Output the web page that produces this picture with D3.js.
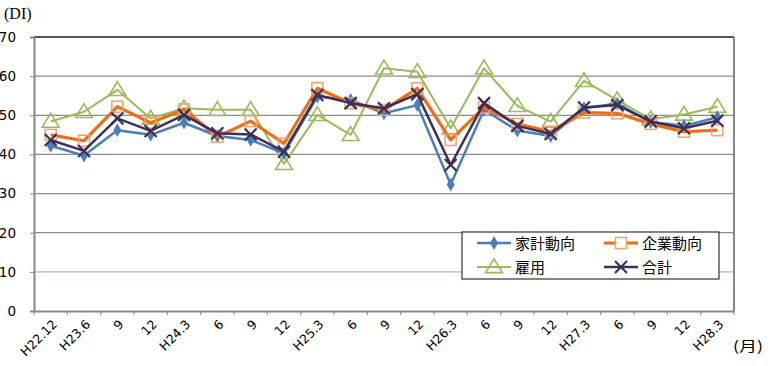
<!DOCTYPE html>
<html><head><meta charset="utf-8">
<script src="https://cdn.jsdelivr.net/npm/d3@7"></script>
<style>body{margin:0;background:#fff;} svg{display:block;}</style>
</head><body>
<svg id="c" width="771" height="366"></svg>
<script>
const categories = ["H22.12","H23.6","9","12","H24.3","6","9","12","H25.3","6","9","12","H26.3","6","9","12","H27.3","6","9","12","H28.3"];
const kakei  = [42.2,39.7,46.2,45.0,48.1,44.7,43.7,40.3,54.8,53.9,50.5,52.6,32.3,51.4,46.1,44.7,51.8,53.0,48.3,47.3,49.5];
const kigyo  = [45.0,43.5,52.2,48.1,51.5,44.5,48.5,42.8,56.9,53.1,51.4,56.9,43.7,52.0,47.8,45.8,50.7,50.5,47.8,45.8,46.2];
const koyo   = [48.4,50.9,56.5,49.2,51.8,51.4,51.4,37.6,50.1,45.0,62.0,61.1,46.7,62.0,52.4,48.4,58.8,53.9,49.0,50.2,52.2];
const gokei  = [43.7,40.9,49.2,46.0,50.1,45.4,45.1,40.7,55.2,53.1,51.8,55.4,37.3,53.1,47.3,45.2,52.0,52.6,48.4,46.7,48.6];
const yTicks = [0,10,20,30,40,50,60,70];
const seriesNames = ["家計動向","企業動向","雇用","合計"];

const svg = d3.select("#c");
const L=34, R=734, T=37, B=311;
const x = d3.scaleBand().domain(d3.range(categories.length)).range([L,R]);
const y = d3.scaleLinear().domain([0,70]).range([B,T]);
const cx = i => x(i)+x.bandwidth()/2;
const font = "'DejaVu Sans', Verdana, sans-serif";
const jfont = "'Noto Sans CJK JP', sans-serif";

// gridlines
svg.append("g").selectAll("line").data(yTicks.filter(d=>d>0 && d<70)).join("line")
  .attr("x1",L).attr("x2",R).attr("y1",d=>y(d)).attr("y2",d=>y(d))
  .attr("stroke",d=>d===10?"#cfa3cf":"#8c8c8c").attr("stroke-width",1.2);
// top border
svg.append("line").attr("x1",L).attr("x2",R).attr("y1",y(70)).attr("y2",y(70)).attr("stroke","#555").attr("stroke-width",2);
// right border
svg.append("line").attr("x1",R).attr("x2",R).attr("y1",y(70)).attr("y2",y(0)).attr("stroke","#888").attr("stroke-width",2);

// y axis
const ya = svg.append("g").attr("transform",`translate(${L},0)`)
  .call(d3.axisLeft(y).tickValues(yTicks).tickSize(4).tickPadding(14));
ya.select(".domain").attr("stroke","#888").attr("stroke-width",2);
ya.selectAll(".tick line").attr("stroke","#888");
ya.selectAll("text").attr("font-family",font).attr("font-size",13.5).attr("fill","#000");

// x axis
const xa = svg.append("g").attr("transform",`translate(0,${B})`)
  .call(d3.axisBottom(x).tickSize(0).tickFormat(i=>categories[i]));
xa.select(".domain").attr("stroke","#888").attr("stroke-width",2);
xa.selectAll(".tick line").remove();
xa.selectAll(".tick text").attr("font-family",font).attr("font-size",12.5).attr("fill","#000")
  .attr("text-anchor","end").attr("dy",0)
  .attr("transform","translate(5,12) rotate(-45)");
// x tick marks between categories
svg.append("g").selectAll("line").data(d3.range(categories.length+1)).join("line")
  .attr("x1",i=>L+i*x.step()).attr("x2",i=>L+i*x.step()).attr("y1",B).attr("y2",B+4)
  .attr("stroke","#888").attr("stroke-width",1);

const line = d3.line().x((d,i)=>cx(i)).y(d=>y(d));

const colors = {blue:"#4a7ebb", orange:"#f06e12", green:"#9bbb59", navy:"#3c2f59", orangeM:"#f5a06a"};

function drawLine(data,color,w){
  svg.append("path").datum(data).attr("d",line).attr("fill","none").attr("stroke",color).attr("stroke-width",w).attr("stroke-linejoin","round");
}
const diamond = d3.symbol().type(d3.symbolDiamond).size(55);
const tri = s => { const h=s*0.9; return `M0,${-h*0.65} L${s*0.6},${h*0.45} L${-s*0.6},${h*0.45} Z`; };

function markersDiamond(g,data,color){
  g.selectAll("path.d").data(data).join("path").attr("class","d")
    .attr("transform",(d,i)=>`translate(${cx(i)},${y(d)})`).attr("d",diamond()).attr("fill",color);
}
function markersSquare(g,data,color){
  g.selectAll("rect").data(data).join("rect")
    .attr("x",(d,i)=>cx(i)-5.5).attr("y",d=>y(d)-5.5).attr("width",11).attr("height",11)
    .attr("fill","none").attr("stroke",color).attr("stroke-width",1.5);
}
function markersTri(g,data,color){
  g.selectAll("path.t").data(data).join("path").attr("class","t")
    .attr("transform",(d,i)=>`translate(${cx(i)},${y(d)})`).attr("d",tri(14))
    .attr("fill","none").attr("stroke",color).attr("stroke-width",1.6);
}
function markersX(g,data,color){
  g.selectAll("path.x").data(data).join("path").attr("class","x")
    .attr("transform",(d,i)=>`translate(${cx(i)},${y(d)})`).attr("d","M-6,-6L6,6M-6,6L6,-6")
    .attr("stroke",color).attr("stroke-width",2.2);
}

drawLine(koyo,colors.green,2);
markersTri(svg.append("g"),koyo,colors.green);
drawLine(kakei,colors.blue,2.5);
markersDiamond(svg.append("g"),kakei,colors.blue);
drawLine(kigyo,colors.orange,3.2);
markersSquare(svg.append("g"),kigyo,colors.orangeM);
drawLine(gokei,colors.navy,2.5);
markersX(svg.append("g"),gokei,colors.navy);

// legend
const lg = svg.append("g");
lg.append("rect").attr("x",462).attr("y",232).attr("width",257).attr("height",47)
  .attr("fill","#fff").attr("stroke","#333").attr("stroke-width",1.2);
const items = [
  {name:seriesNames[0], c:colors.blue, w:2.5, m:"d", x:477, y:243},
  {name:seriesNames[1], c:colors.orange, w:3.2, m:"s", x:604, y:243},
  {name:seriesNames[2], c:colors.green, w:2, m:"t", x:477, y:267},
  {name:seriesNames[3], c:colors.navy, w:2.5, m:"x", x:604, y:267}
];
items.forEach(it=>{
  lg.append("line").attr("x1",it.x).attr("x2",it.x+34).attr("y1",it.y).attr("y2",it.y).attr("stroke",it.c).attr("stroke-width",it.w);
  const mx = it.x+17, my = it.y;
  if(it.m==="d") lg.append("path").attr("transform",`translate(${mx},${my})`).attr("d",diamond()).attr("fill",it.c);
  if(it.m==="s") lg.append("rect").attr("x",mx-5.5).attr("y",my-5.5).attr("width",11).attr("height",11).attr("fill","#fff").attr("stroke",colors.orangeM).attr("stroke-width",1.5);
  if(it.m==="t") lg.append("path").attr("transform",`translate(${mx},${my})`).attr("d",tri(14)).attr("fill","none").attr("stroke",it.c).attr("stroke-width",1.6);
  if(it.m==="x") lg.append("path").attr("transform",`translate(${mx},${my})`).attr("d","M-6,-6L6,6M-6,6L6,-6").attr("stroke",it.c).attr("stroke-width",2.2);
  lg.append("text").attr("x",it.x+38).attr("y",it.y+5.5).attr("font-family",jfont).attr("font-size",15).attr("fill","#000").text(it.name);
});

// unit labels
svg.append("text").attr("x",4).attr("y",19).attr("font-family","'Liberation Serif', serif").attr("font-size",16).attr("fill","#000").text("(DI)");
svg.append("text").attr("x",733).attr("y",351).attr("font-family",jfont).attr("font-size",14)
  .attr("textLength",30).attr("lengthAdjust","spacingAndGlyphs").attr("fill","#000").text("(月)");
</script>
</body></html>
